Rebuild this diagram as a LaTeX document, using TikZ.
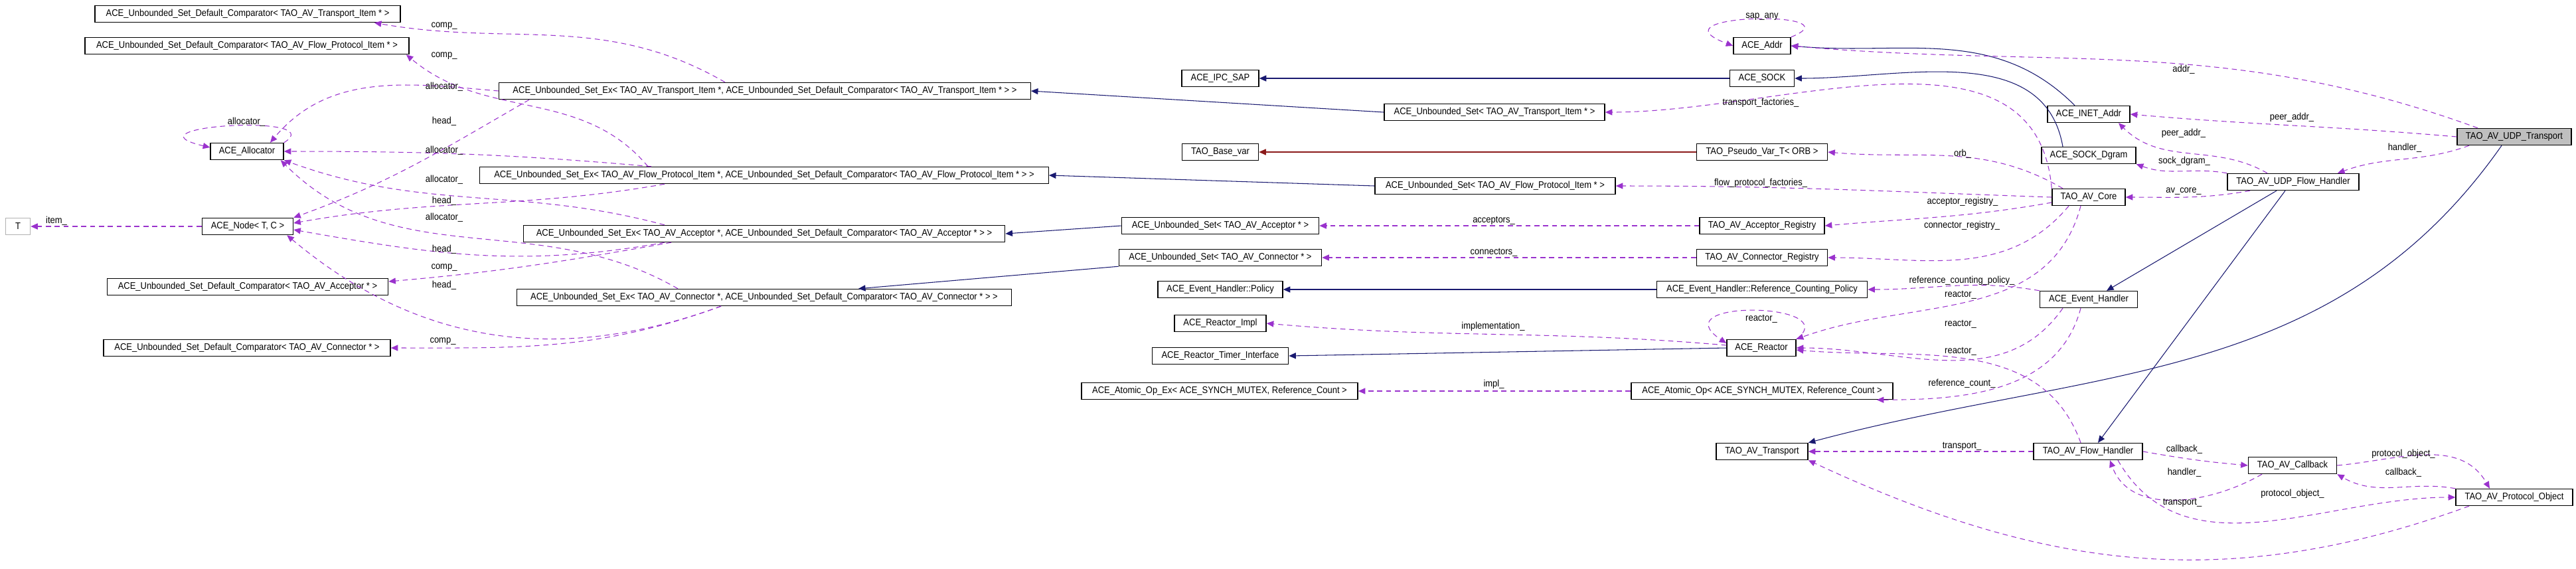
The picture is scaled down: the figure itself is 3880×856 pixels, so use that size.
\documentclass[tikz,border=0pt]{standalone}
\usepackage{fontspec}
\setmainfont{Liberation Sans}[FakeStretch=0.9]
\usetikzlibrary{arrows.meta}
\definecolor{inhblue}{RGB}{25,25,112}
\definecolor{tplred}{RGB}{139,26,26}
\definecolor{usepurple}{RGB}{154,50,205}
\newcommand{\diafont}{\fontsize{4.1}{5}\selectfont}

\begin{document}
\begin{tikzpicture}[x=0.01cm, y=-0.01cm,
            cls/.style={draw, fill=white, line width=0.4pt, minimum height=0.25cm, inner sep=1pt, font=\diafont},
            lbl/.style={inner sep=0pt, font=\diafont},
            inh/.style={draw=inhblue, line width=0.3pt, -{Triangle[length=3pt,width=2.6pt]}},
            tpl/.style={draw=tplred, line width=0.3pt, -{Triangle[length=3pt,width=2.6pt]}},
            usage/.style={draw=usepurple, line width=0.3pt, dash pattern=on 2.2pt off 1.6pt,
                -{Triangle[length=3pt,width=2.6pt]}}]
    \useasboundingbox (0,0) rectangle (3880,856);
    % classes, left column
    \node[cls, minimum width=4.6cm] (compTr) at (373,21) {ACE\_Unbounded\_Set\_Default\_Comparator< TAO\_AV\_Transport\_Item * >};
    \node[cls, minimum width=4.88cm] (compFP) at (372,69) {ACE\_Unbounded\_Set\_Default\_Comparator< TAO\_AV\_Flow\_Protocol\_Item * >};
    \node[cls, minimum width=1.1cm] (alloc) at (372,228) {ACE\_Allocator};
    \node[cls, minimum width=1.37cm] (aceNode) at (373,341) {ACE\_Node< T, C >};
    \node[cls, draw=gray!60, minimum width=0.37cm] (tParam) at (27,341) {T};
    \node[cls, minimum width=4.23cm] (compAcc) at (373,432) {ACE\_Unbounded\_Set\_Default\_Comparator< TAO\_AV\_Acceptor * >};
    \node[cls, minimum width=4.32cm] (compConn) at (372,524) {ACE\_Unbounded\_Set\_Default\_Comparator< TAO\_AV\_Connector * >};
    % set_ex column
    \node[cls, minimum width=8cm] (setExTr) at (1152,137) {ACE\_Unbounded\_Set\_Ex< TAO\_AV\_Transport\_Item *, ACE\_Unbounded\_Set\_Default\_Comparator< TAO\_AV\_Transport\_Item * > >};
    \node[cls, minimum width=8.56cm] (setExFP) at (1151,264) {ACE\_Unbounded\_Set\_Ex< TAO\_AV\_Flow\_Protocol\_Item *, ACE\_Unbounded\_Set\_Default\_Comparator< TAO\_AV\_Flow\_Protocol\_Item * > >};
    \node[cls, minimum width=7.25cm] (setExAcc) at (1151,352) {ACE\_Unbounded\_Set\_Ex< TAO\_AV\_Acceptor *, ACE\_Unbounded\_Set\_Default\_Comparator< TAO\_AV\_Acceptor * > >};
    \node[cls, minimum width=7.44cm] (setExConn) at (1151,448) {ACE\_Unbounded\_Set\_Ex< TAO\_AV\_Connector *, ACE\_Unbounded\_Set\_Default\_Comparator< TAO\_AV\_Connector * > >};
    % middle column
    \node[cls, minimum width=1.16cm] (ipcSap) at (1838,118) {ACE\_IPC\_SAP};
    \node[cls, minimum width=1.15cm] (baseVar) at (1838,229) {TAO\_Base\_var};
    \node[cls, minimum width=2.97cm] (unbSetAcc) at (1838,340) {ACE\_Unbounded\_Set< TAO\_AV\_Acceptor * >};
    \node[cls, minimum width=3.05cm] (unbSetConn) at (1838,388) {ACE\_Unbounded\_Set< TAO\_AV\_Connector * >};
    \node[cls, minimum width=1.88cm] (ehPolicy) at (1838,436) {ACE\_Event\_Handler::Policy};
    \node[cls, minimum width=1.38cm] (reactorImpl) at (1838,487) {ACE\_Reactor\_Impl};
    \node[cls, minimum width=2.05cm] (reactorTimer) at (1838,536) {ACE\_Reactor\_Timer\_Interface};
    \node[cls, minimum width=4.16cm] (atomicOpEx) at (1837,589) {ACE\_Atomic\_Op\_Ex< ACE\_SYNCH\_MUTEX, Reference\_Count >};
    \node[cls, minimum width=3.32cm] (unbSetTr) at (2251,169) {ACE\_Unbounded\_Set< TAO\_AV\_Transport\_Item * >};
    \node[cls, minimum width=3.62cm] (unbSetFP) at (2252,280) {ACE\_Unbounded\_Set< TAO\_AV\_Flow\_Protocol\_Item * >};
    % right middle column
    \node[cls, minimum width=0.86cm] (addr) at (2654,69) {ACE\_Addr};
    \node[cls, minimum width=0.97cm] (sock) at (2654,118) {ACE\_SOCK};
    \node[cls, minimum width=1.97cm] (pseudoVar) at (2654,229) {TAO\_Pseudo\_Var\_T< ORB >};
    \node[cls, minimum width=1.88cm] (accReg) at (2654,340) {TAO\_AV\_Acceptor\_Registry};
    \node[cls, minimum width=1.97cm] (connReg) at (2654,388) {TAO\_AV\_Connector\_Registry};
    \node[cls, minimum width=3.17cm] (refCountPol) at (2654,436) {ACE\_Event\_Handler::Reference\_Counting\_Policy};
    \node[cls, minimum width=1.04cm] (reactor) at (2653,524) {ACE\_Reactor};
    \node[cls, minimum width=3.94cm] (atomicOp) at (2654,589) {ACE\_Atomic\_Op< ACE\_SYNCH\_MUTEX, Reference\_Count >};
    \node[cls, minimum width=1.38cm] (avTransport) at (2654,680) {TAO\_AV\_Transport};
    % right columns
    \node[cls, minimum width=1.24cm] (inetAddr) at (3146,172) {ACE\_INET\_Addr};
    \node[cls, minimum width=1.42cm] (sockDgram) at (3146,234) {ACE\_SOCK\_Dgram};
    \node[cls, minimum width=1.1cm] (avCore) at (3146,297) {TAO\_AV\_Core};
    \node[cls, minimum width=1.47cm] (eventHandler) at (3146,451) {ACE\_Event\_Handler};
    \node[cls, minimum width=1.64cm] (avFH) at (3145,680) {TAO\_AV\_Flow\_Handler};
    \node[cls, minimum width=1.98cm] (udpFH) at (3454,274) {TAO\_AV\_UDP\_Flow\_Handler};
    \node[cls, minimum width=1.33cm] (callback) at (3453,701) {TAO\_AV\_Callback};
    \node[cls, fill=gray!50, minimum width=1.72cm] (udpTr) at (3787,206) {TAO\_AV\_UDP\_Transport};
    \node[cls, minimum width=1.76cm] (protoObj) at (3787,749) {TAO\_AV\_Protocol\_Object};
    % inheritance
    \draw[inh] ([shift={(-19,0)}]udpTr.south) to[out=-125,in=15] (avTransport.north east);
    \draw[inh] ([shift={(-25,0)}]udpFH.south) -- ([shift={(27,0)}]eventHandler.north);
    \draw[inh] ([shift={(-12,0)}]udpFH.south) -- ([shift={(15,0)}]avFH.north);
    \draw[inh] ([shift={(-21,0)}]inetAddr.north) to[out=135,in=-5] (addr.east);
    \draw[inh] ([shift={(-39,0)}]sockDgram.north) to[out=100,in=0] (sock.east);
    \draw[inh] (sock.west) -- (ipcSap.east);
    \draw[inh] (unbSetTr.west) -- (setExTr.east);
    \draw[tpl] (pseudoVar.west) -- (baseVar.east);
    \draw[inh] (unbSetFP.west) -- (setExFP.east);
    \draw[inh] (unbSetAcc.west) -- (setExAcc.east);
    \draw[inh] (unbSetConn.south west) -- ([shift={(142,0)}]setExConn.north);
    \draw[inh] (refCountPol.west) -- (ehPolicy.east);
    \draw[inh] (reactor.west) -- (reactorTimer.east);
    % usage, right part
    \draw[usage] ([shift={(-55,0)}]udpTr.north) to[out=160,in=-5] (addr.east);
    \node[lbl] (lAddr) at (3289,105) {addr\_};
    \draw[usage] (udpTr.west) to[out=175,in=-5] (inetAddr.east);
    \node[lbl] (lPeerA) at (3452,177) {peer\_addr\_};
    \draw[usage] ([shift={(-68,0)}]udpTr.south) to[out=-160,in=20] ([shift={(67,0)}]udpFH.north);
    \node[lbl] (lHandlerA) at (3622,223) {handler\_};
    \draw[usage] ([shift={(-39,0)}]udpFH.north) to[out=150,in=-45] ([shift={(45,0)}]inetAddr.south);
    \node[lbl] (lPeerB) at (3289,201) {peer\_addr\_};
    \draw[usage] (udpFH.north west) to[out=170,in=-20] (sockDgram.south east);
    \node[lbl] (lSockD) at (3290,243) {sock\_dgram\_};
    \draw[usage] ([shift={(-65,0)}]udpFH.south) to[out=-170,in=0] (avCore.east);
    \node[lbl] (lAvCore) at (3289,288) {av\_core\_};
    \draw[usage] (addr.north east) .. controls (2800,15) and (2480,20) .. (addr.west);
    \node[lbl] (lSapAny) at (2654,25) {sap\_any};
    \draw[usage] (avCore.north west) to[out=95,in=0] (unbSetTr.east);
    \node[lbl] (lTrFact) at (2652,155) {transport\_factories\_};
    \draw[usage] ([shift={(-39,0)}]avCore.north) to[out=150,in=-5] (pseudoVar.east);
    \node[lbl] (lOrb) at (2956,232) {orb\_};
    \draw[usage] (avCore.west) to[out=178,in=0] (unbSetFP.east);
    \node[lbl] (lFPFact) at (2652,276) {flow\_protocol\_factories\_};
    \draw[usage] ([shift={(0,8)}]avCore.west) to[out=190,in=5] (accReg.east);
    \node[lbl] (lAccReg) at (2956,304) {acceptor\_registry\_};
    \draw[usage] ([shift={(-30,0)}]avCore.south) to[out=-130,in=0] (connReg.east);
    \node[lbl] (lConnReg) at (2955,340) {connector\_registry\_};
    \draw[usage] ([shift={(-12,0)}]avCore.south) to[out=-105,in=20] (reactor.north east);
    \node[lbl] (lReactA) at (2953,444) {reactor\_};
    \draw[usage] (accReg.west) -- (unbSetAcc.east);
    \node[lbl] (lAccs) at (2250,332) {acceptors\_};
    \draw[usage] (connReg.west) -- (unbSetConn.east);
    \node[lbl] (lConns) at (2250,380) {connectors\_};
    \draw[usage] (eventHandler.north west) to[out=170,in=0] (refCountPol.east);
    \node[lbl] (lRefPol) at (2955,423) {reference\_counting\_policy\_};
    \draw[usage] ([shift={(-39,0)}]eventHandler.south) to[out=-125,in=0] (reactor.east);
    \node[lbl] (lReactB) at (2953,488) {reactor\_};
    \draw[usage] ([shift={(-12,0)}]eventHandler.south) to[out=-105,in=0] ([shift={(-25,0)}]atomicOp.south east);
    \node[lbl] (lRefCnt) at (2955,578) {reference\_count\_};
    \draw[usage] ([shift={(-11,0)}]avFH.north) to[out=110,in=-5] ([shift={(0,3)}]reactor.east);
    \node[lbl] (lReactC) at (2953,529) {reactor\_};
    \draw[usage] (reactor.north east) .. controls (2780,455) and (2500,450) .. ([shift={(0,-7)}]reactor.west);
    \node[lbl] (lReactD) at (2653,480) {reactor\_};
    \draw[usage] ([shift={(0,-4)}]reactor.west) to[out=175,in=-5] (reactorImpl.east);
    \node[lbl] (lImpl) at (2249,492) {implementation\_};
    \draw[usage] (atomicOp.west) -- (atomicOpEx.east);
    \node[lbl] (lImplB) at (2250,579) {impl\_};
    \draw[usage] (avFH.west) -- (avTransport.east);
    \node[lbl] (lTrA) at (2955,672) {transport\_};
    \draw[usage] (avFH.east) to[out=-10,in=175] (callback.west);
    \node[lbl] (lCbA) at (3290,677) {callback\_};
    \draw[usage] ([shift={(-46,0)}]callback.south) to[out=-150,in=-70] ([shift={(33,0)}]avFH.south);
    \node[lbl] (lHandlerB) at (3290,712) {handler\_};
    \draw[usage] (callback.east) to[out=5,in=120] ([shift={(-37,0)}]protoObj.north);
    \node[lbl] (lPoA) at (3620,684) {protocol\_object\_};
    \draw[usage] (protoObj.north west) to[out=170,in=-30] (callback.south east);
    \node[lbl] (lCbB) at (3620,712) {callback\_};
    \draw[usage] ([shift={(45,0)}]avFH.south) to[out=-60,in=180] (protoObj.west);
    \node[lbl] (lPoB) at (3453,744) {protocol\_object\_};
    \draw[usage] ([shift={(-68,0)}]protoObj.south) to[out=-160,in=-25] (avTransport.south east);
    \node[lbl] (lTrB) at (3287,757) {transport\_};
    % usage, left part
    \draw[usage] ([shift={(-60,0)}]setExTr.north) to[out=150,in=-10] ([shift={(-40,0)}]compTr.south east);
    \node[lbl] (lCompA) at (669,39) {comp\_};
    \draw[usage] ([shift={(-175,0)}]setExFP.north) to[out=130,in=-40] ([shift={(-5,0)}]compFP.south east);
    \node[lbl] (lCompB) at (669,84) {comp\_};
    \draw[usage] (setExTr.west) to[out=175,in=50] ([shift={(35,0)}]alloc.north);
    \node[lbl] (lAllocA) at (669,131) {allocator\_};
    \draw[usage] ([shift={(46,0)}]setExTr.south west) to[out=-150,in=20] (aceNode.north east);
    \node[lbl] (lHeadA) at (669,183) {head\_};
    \draw[usage] ([shift={(-170,0)}]setExFP.north) to[out=175,in=0] (alloc.east);
    \node[lbl] (lAllocB) at (669,227) {allocator\_};
    \draw[usage] ([shift={(-150,0)}]setExFP.south) to[out=-170,in=10] ([shift={(0,-5)}]aceNode.east);
    \node[lbl] (lHeadB) at (669,303) {head\_};
    \draw[usage] ([shift={(-150,0)}]setExAcc.north) to[out=165,in=-20] (alloc.south east);
    \node[lbl] (lAllocC) at (669,271) {allocator\_};
    \draw[usage] ([shift={(-150,0)}]setExAcc.south) to[out=-170,in=-10] ([shift={(0,5)}]aceNode.east);
    \node[lbl] (lHeadC) at (669,376) {head\_};
    \draw[usage] ([shift={(-140,0)}]setExAcc.south) to[out=-170,in=5] ([shift={(0,-8)}]compAcc.east);
    \node[lbl] (lCompC) at (669,403) {comp\_};
    \draw[usage] ([shift={(-130,0)}]setExConn.north) to[out=150,in=-45] ([shift={(-5,0)}]alloc.south east);
    \node[lbl] (lAllocD) at (669,328) {allocator\_};
    \draw[usage] ([shift={(-65,0)}]setExConn.south) to[out=-160,in=-40] ([shift={(-10,0)}]aceNode.south east);
    \node[lbl] (lHeadD) at (669,430) {head\_};
    \draw[usage] ([shift={(-65,0)}]setExConn.south) to[out=-160,in=0] (compConn.east);
    \node[lbl] (lCompD) at (667,514) {comp\_};
    \draw[usage] (alloc.north east) .. controls (500,170) and (180,190) .. ([shift={(0,-6)}]alloc.west);
    \node[lbl] (lAllocE) at (371,184) {allocator\_};
    \draw[usage] (aceNode.west) -- (tParam.east);
    \node[lbl] (lItem) at (85,333) {item\_};
\end{tikzpicture}
\end{document}
